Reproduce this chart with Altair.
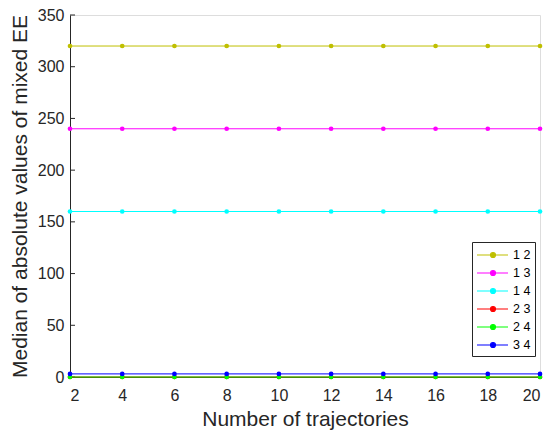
import altair as alt
import pandas as pd

x_vals = [2, 4, 6, 8, 10, 12, 14, 16, 18, 20]
series_names = ["1 2", "1 3", "1 4", "2 3", "2 4", "3 4"]
series_levels = [320, 240, 160, 0, 0, 3]
colors = ["#bfbf00", "#ff00ff", "#00ffff", "#ff0000", "#00ff00", "#0000ff"]
y_ticks = [0, 50, 100, 150, 200, 250, 300, 350]
x_ticks = x_vals

rows = []
for name, lvl in zip(series_names, series_levels):
    for xv in x_vals:
        rows.append({"x": xv, "y": lvl, "pair": name})
df = pd.DataFrame(rows)

FONT = "Liberation Sans"
TXT = "#262626"
xs = alt.Scale(domain=[2, 20], nice=False, zero=False)
ys = alt.Scale(domain=[0, 350], nice=False)

sym = "M-1,0L2.875,0M0.69,0A0.31,0.31,0,1,1,1.31,0A0.31,0.31,0,1,1,0.69,0Z"
NB = "\u00a0"

lines = alt.Chart(df).mark_line(
    point=alt.OverlayMarkDef(filled=True, size=22), strokeWidth=1
).encode(
    x=alt.X("x:Q", scale=xs,
            axis=alt.Axis(values=x_ticks, title="Number of trajectories", ticks=False,
                          grid=False, domainColor=TXT, labelColor=TXT,
                          labelFontSize=16, titleFontSize=21, titleFontWeight="normal",
                          titleColor=TXT, labelPadding=10, titlePadding=5)),
    y=alt.Y("y:Q", scale=ys,
            axis=alt.Axis(values=y_ticks, title="Median of absolute values of mixed EE",
                          ticks=False, grid=False, domainColor=TXT,
                          labelColor=TXT, labelFontSize=16, titleFontSize=21,
                          titleFontWeight="normal", titleColor=TXT,
                          labelPadding=6, titlePadding=7)),
    color=alt.Color("pair:N", scale=alt.Scale(domain=series_names, range=colors),
                    legend=alt.Legend(title=None, orient="none", legendX=402, legendY=227,
                                      symbolType=sym, symbolSize=256, symbolStrokeWidth=1.2,
                                      labelFontSize=12.5, labelColor="#000000",
                                      labelExpr="datum.label + '" + NB * 3 + "'",
                                      fillColor="white", strokeColor=TXT,
                                      padding=4, rowPadding=2, labelOffset=19,
                                      labelFont=FONT)),
)

ytick_df = pd.DataFrame({"v": y_ticks})
xtick_df = pd.DataFrame({"v": x_ticks})
ytick = alt.Chart(ytick_df).mark_rule(color=TXT, strokeWidth=1).encode(
    y=alt.Y("v:Q", scale=ys), x=alt.value(0), x2=alt.value(5))
xtick = alt.Chart(xtick_df).mark_rule(color=TXT, strokeWidth=1).encode(
    x=alt.X("v:Q", scale=xs), y=alt.value(362), y2=alt.value(357))

chart = alt.layer(ytick, xtick, lines).properties(
    width=470, height=362,
    autosize=alt.AutoSizeParams(type="none"),
    padding={"left": 62, "top": 7, "right": 4, "bottom": 55},
).configure_view(stroke=None).configure(font=FONT)

chart.save("out.html", embed_options={"renderer": "svg", "actions": False})
